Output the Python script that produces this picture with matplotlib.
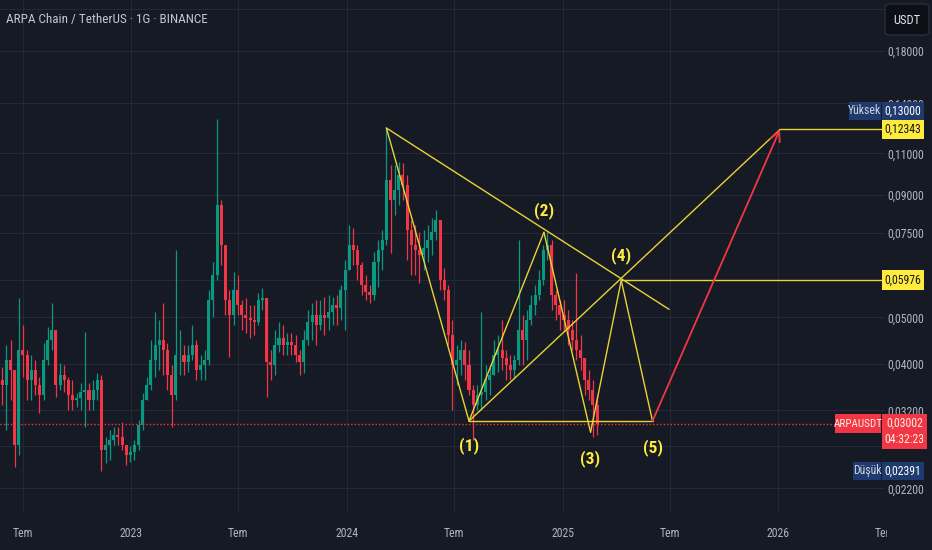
import numpy as np
import pandas as pd
import matplotlib
matplotlib.use("Agg")
import matplotlib.pyplot as plt
import matplotlib.dates as mdates
from matplotlib.patches import Rectangle, FancyBboxPatch
from matplotlib.ticker import NullLocator, NullFormatter
from matplotlib import font_manager

# ---------------- data (weekly candles) ----------------
start_date = "2022-05-27"
first_open = 0.0370
closes = [
    .0361, .0407, .0388, .0271, .0427, .0417, .0370, .0388, .0361, .0344,
    .0407, .0448, .0471, .0361, .0379, .0370, .0344, .0336, .0339, .0349,
    .0353, .0336, .0353, .0370, .0265, .0271, .0278, .0284, .0281, .0271,
    .0258, .0262, .0271, .0298, .0336, .0361, .0407, .0438, .0448, .0427,
    .0379, .0344, .0417, .0417, .0403, .0417, .0438, .0388, .0398, .0407,
    .0543, .0613, .0858, .0708, .0543, .0506, .0570, .0531, .0506, .0499,
    .0494, .0489, .0543, .0549, .0403, .0398, .0438, .0453, .0438, .0444,
    .0438, .0417, .0403, .0448, .0489, .0506, .0482, .0506, .0499, .0513,
    .0531, .0523, .0570, .0628, .0708, .0691, .0643, .0584, .0565, .0557,
    .0653, .0691, .0725, .0968, .0879, .0922, .0991, .0945, .0761, .0708,
    .0691, .0675, .0698, .0725, .0753, .0798, .0598, .0570, .0459, .0398,
    .0407, .0427, .0398, .0353, .0328, .0344, .0349, .0370, .0379, .0417,
    .0427, .0411, .0398, .0388, .0407, .0471, .0448, .0494, .0531, .0557,
    .0598, .0691, .0708, .0557, .0531, .0506, .0494, .0471, .0448, .0427,
    .0411, .0370, .0353, .0328, .03002]
highs = [
    .0394, .0438, .0448, .0370, .0549, .0482, .0427, .0417, .0407, .0375,
    .0442, .0478, .0536, .0471, .0401, .0398, .0375, .0370, .0348, .0365,
    .0466, .0365, .0370, .0383, .0379, .0281, .0291, .0295, .0295, .0302,
    .0271, .0269, .0278, .0305, .0348, .0375, .0448, .0513, .0494, .0536,
    .0442, .0398, .0691, .0471, .0438, .0438, .0482, .0448, .0417, .0427,
    .0570, .0653, .1300, .0879, .0708, .0570, .0622, .0613, .0543, .0549,
    .0531, .0531, .0562, .0576, .0543, .0427, .0471, .0489, .0482, .0464,
    .0464, .0459, .0427, .0471, .0518, .0536, .0543, .0543, .0551, .0557,
    .0551, .0557, .0584, .0659, .0779, .0768, .0708, .0653, .0613, .0584,
    .0685, .0725, .0761, .1243, .1040, .1040, .1055, .1050, .0991, .0798,
    .0779, .0753, .0761, .0779, .0806, .0838, .0798, .0634, .0584, .0494,
    .0438, .0448, .0444, .0427, .0361, .0361, .0513, .0398, .0398, .0448,
    .0459, .0494, .0427, .0417, .0417, .0725, .0506, .0518, .0557, .0584,
    .0628, .0708, .0753, .0725, .0570, .0543, .0543, .0518, .0494, .0619,
    .0459, .0407, .0388, .0370, .0344]
lows = [
    .0328, .0291, .0336, .0244, .0258, .0375, .0336, .0336, .0344, .0316,
    .0336, .0398, .0427, .0341, .0353, .0349, .0320, .0320, .0325, .0320,
    .0295, .0320, .0320, .0336, .02391, .0249, .0252, .0271, .0271, .0265,
    .0246, .0250, .0252, .0265, .0291, .0336, .0353, .0375, .0388, .0379,
    .0353, .0295, .0336, .0379, .0379, .0385, .0407, .0370, .0370, .0370,
    .0398, .0501, .0598, .0643, .0506, .0413, .0482, .0506, .0471, .0464,
    .0453, .0459, .0482, .0518, .0341, .0370, .0379, .0423, .0417, .0417,
    .0417, .0403, .0379, .0383, .0438, .0448, .0438, .0471, .0459, .0471,
    .0482, .0482, .0494, .0471, .0628, .0643, .0598, .0557, .0543, .0536,
    .0543, .0578, .0628, .0708, .0681, .0818, .0858, .0879, .0659, .0613,
    .0613, .0590, .0628, .0653, .0675, .0725, .0570, .0543, .0438, .0320,
    .0361, .0379, .0370, .0344, .0278, .0320, .0320, .0336, .0344, .0379,
    .0385, .0388, .0370, .0370, .0373, .0398, .0398, .0407, .0482, .0506,
    .0543, .0584, .0659, .0518, .0494, .0471, .0466, .0438, .0427, .0407,
    .0388, .0344, .0336, .0281, .0284]

# Elliott-wave drawing points: peak, (1) .. (5), target
wave_names = ["P", "(1)", "(2)", "(3)", "(4)", "(5)", "T"]
wave_dates = ["2024-03-08", "2024-07-26", "2024-11-30", "2025-02-17",
              "2025-04-10", "2025-06-02", "2026-01-04"]
wave_prices = [0.1243, 0.0304, 0.0753, 0.0288, 0.05976, 0.0304, 0.12343]
trend_end_date = "2025-06-30"
trend_end_price = 0.0520

last_price = 0.03002
high_price = 0.13000
low_price = 0.02391
countdown = "04:32:23"

price_ticks = [0.022, 0.027, 0.032, 0.040, 0.050, 0.060, 0.075, 0.090, 0.110, 0.140, 0.180, 0.220]
price_tick_labels = ["0,02200", "", "0,03200", "0,04000", "0,05000", "", "0,07500",
                     "0,09000", "0,11000", "0,14000", "0,18000", ""]
time_ticks = ["2022-07-01", "2023-01-01", "2023-07-01", "2024-01-01", "2024-07-01",
              "2025-01-01", "2025-07-01", "2026-01-01", "2026-07-01"]
time_tick_labels = ["Tem", "2023", "Tem", "2024", "Tem", "2025", "Tem", "2026", "Tem"]
title = "ARPA Chain / TetherUS · 1G · BINANCE"

# ---------------- style ----------------
BG = "#161a25"
GRID = "#252935"
TXT = "#b2b5be"
GREEN = "#089981"
RED = "#f23645"
YEL = "#e9d335"
YEL_TAG = "#ffeb3b"
NAVY = "#1f3a6e"

avail = {f.name for f in font_manager.fontManager.ttflist}
FONT = next((c for c in ["Liberation Sans Narrow", "Roboto Condensed", "DejaVu Sans"] if c in avail),
            "DejaVu Sans")
plt.rcParams["font.family"] = [FONT, "DejaVu Sans"]
if FONT == "DejaVu Sans":
    plt.rcParams["font.stretch"] = "condensed"

W, H = 932, 550
AX_R, AX_B = 885, 512
PX_PER_DAY = 0.5925

fig = plt.figure(figsize=(W / 100, H / 100), dpi=100, facecolor=BG)
ax = fig.add_axes([0, 1 - AX_B / H, AX_R / W, AX_B / H])
ax.set_facecolor(BG)
ax.set_yscale("log")
ax.set_ylim(0.01963, 0.2300)
x_left = mdates.date2num(pd.Timestamp("2022-07-01")) - 23 / PX_PER_DAY
ax.set_xlim(x_left, x_left + AX_R / PX_PER_DAY)
for s in ax.spines.values():
    s.set_visible(False)

ax.set_yticks(price_ticks)
ax.set_yticklabels(price_tick_labels)
ax.yaxis.set_minor_locator(NullLocator())
ax.yaxis.set_minor_formatter(NullFormatter())
ax.yaxis.tick_right()
ax.tick_params(axis="y", length=0, pad=2, labelsize=8.5, colors=TXT)
ax.set_xticks([mdates.date2num(pd.Timestamp(d)) for d in time_ticks])
ax.set_xticklabels(time_tick_labels)
ax.tick_params(axis="x", length=0, pad=11, labelsize=8.5, colors=TXT)
ax.grid(True, color=GRID, lw=0.8, zorder=0)
ax.set_axisbelow(True)

# ---------------- candles ----------------
c = np.array(closes)
h = np.array(highs)
l = np.array(lows)
o = np.r_[first_open, c[:-1]]
dates = mdates.date2num(pd.date_range(start_date, periods=len(c), freq="7D"))
hi = np.maximum(h, np.maximum(o, c))
lo = np.minimum(l, np.minimum(o, c))
up = c >= o
cols = np.where(up, GREEN, RED)
ax.vlines(dates, lo, hi, colors=cols, lw=0.9, zorder=2)
ax.bar(dates, np.abs(c - o), bottom=np.minimum(o, c), width=5.2, color=cols,
       edgecolor="none", zorder=3)

# last price dotted line
ax.axhline(last_price, color=RED, ls=(0, (1, 1.5)), lw=1.0, zorder=4)

# ---------------- wave drawing ----------------
wd = [mdates.date2num(pd.Timestamp(d)) for d in wave_dates]
wp = wave_prices
P, W1, W2, W3, W4, W5, T = range(7)
te = mdates.date2num(pd.Timestamp(trend_end_date))
xr = ax.get_xlim()[1]
lk = dict(color=YEL, lw=1.0, zorder=5, solid_capstyle="round")
for a, b in [(P, W1), (W1, W2), (W2, W3), (W3, W4), (W4, W5), (W1, T)]:
    ax.plot([wd[a], wd[b]], [wp[a], wp[b]], **lk)
ax.plot([wd[W1], wd[W5]], [wp[W1], wp[W5]], **lk)
ax.plot([wd[P], te], [wp[P], trend_end_price], **lk)
ax.plot([wd[W4], xr], [wp[W4], wp[W4]], **lk)
ax.plot([wd[T], xr], [wp[T], wp[T]], **lk)
ax.annotate("", xy=(wd[T], wp[T]), xytext=(wd[W5], wp[W5]),
            arrowprops=dict(arrowstyle="->,head_length=0.7,head_width=0.35", color=RED,
                            lw=1.3, shrinkA=0, shrinkB=0), zorder=6)

offsets = {W1: -18, W2: 16, W3: -19, W4: 18, W5: -19}
for k, dy in offsets.items():
    ax.annotate(wave_names[k], xy=(wd[k], wp[k]), xytext=(0, dy), textcoords="offset points",
                ha="center", va="center", color=YEL_TAG, fontsize=12.5, fontweight="bold", zorder=7)

# ---------------- title ----------------
fig.text(6 / W, 1 - 19 / H, title, ha="left", va="center", color="#c3c6ce", fontsize=9.5)

# ---------------- right-side tags ----------------
def ypix(price):
    return H - ax.transData.transform((x_left, price))[1]


def box(x0, x1, yc, hh, fc, text=None, tc="white", fs=8.5, yt=None):
    fig.add_artist(Rectangle((x0 / W, 1 - (yc + hh / 2) / H), (x1 - x0) / W, hh / H,
                             transform=fig.transFigure, fc=fc, ec="none", zorder=20))
    if text is not None:
        fig.text((x0 + x1) / 2 / W, 1 - (yc if yt is None else yt) / H, text, ha="center",
                 va="center", color=tc, fontsize=fs, zorder=21)


# cover the part of the time axis under the price scale
fig.add_artist(Rectangle((887 / W, 0), (W - 887) / W, (H - AX_B) / H, transform=fig.transFigure,
                         fc=BG, ec="none", zorder=15))

y_t = ypix(wp[T])
box(882, 924, y_t, 19, YEL_TAG, "0,12343", tc="#131722")
y_hi = y_t - 18.5
box(849, 881, y_hi, 18, NAVY, "Yüksek", tc="#d1d4dc")
box(882, 924, y_hi, 18, NAVY, "0,13000", tc="white")
box(882, 924, ypix(wp[W4]), 20, YEL_TAG, "0,05976", tc="#131722")
y_l = ypix(last_price)
box(835, 881, y_l, 19, RED, "ARPAUSDT", tc="#fdeede", fs=8)
box(882, 927, y_l + 8, 35, RED, "0,03002", tc="#fdeede", yt=y_l)
fig.text(904.5 / W, 1 - (y_l + 16) / H, countdown, ha="center", va="center", color="#fdeede",
         fontsize=8.5, zorder=21)
y_lo = ypix(low_price)
box(853, 881, y_lo, 18, NAVY, "Düşük", tc="#d1d4dc")
box(882, 924, y_lo, 18, NAVY, "0,02391", tc="white")

fig.add_artist(FancyBboxPatch((885 / W, 1 - 35 / H), 44 / W, 31 / H,
                              boxstyle="round,pad=0,rounding_size=0.006",
                              transform=fig.transFigure, fc="#0d0f16", ec="#2a2e39", lw=1, zorder=20))
fig.text(907 / W, 1 - 20 / H, "USDT", ha="center", va="center", color="#e0e3eb", fontsize=9, zorder=21)

fig.savefig("out.png", dpi=100, facecolor=BG)
